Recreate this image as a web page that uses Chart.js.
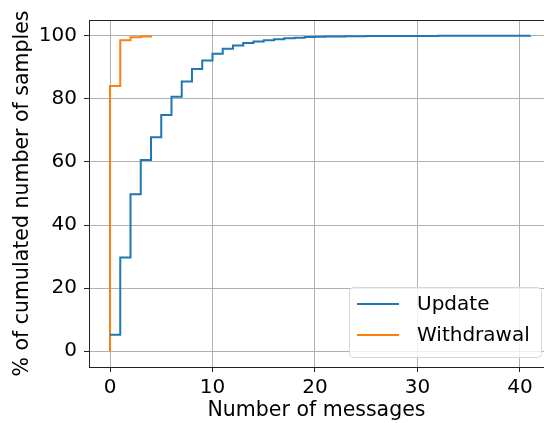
<!DOCTYPE html>
<html>
<head>
<meta charset="utf-8">
<script src="https://cdn.jsdelivr.net/npm/chart.js@4.4.1/dist/chart.umd.min.js"></script>
<style>
  html, body { margin: 0; padding: 0; background: #fff; }
  #wrap { width: 544px; height: 423px; position: relative; }
</style>
</head>
<body>
<div id="wrap"><canvas id="cdfChart"></canvas></div>
<script>
// data (step CDF, % of samples)
const seriesNames = ['Update', 'Withdrawal'];
const updateX = [0, 1, 2, 3, 4, 5, 6, 7, 8, 9, 10, 11, 12, 13, 14, 15, 16, 17, 18, 19, 20, 21, 22, 23, 25, 28, 32, 41];
const updateY = [5.2, 29.7, 49.8, 60.6, 67.8, 74.9, 80.7, 85.5, 89.5, 92.2, 94.3, 95.9, 96.9, 97.7, 98.2, 98.6, 98.9, 99.2, 99.4, 99.6, 99.7, 99.75, 99.8, 99.85, 99.9, 99.95, 99.98, 100];
const withdrawalX = [0, 0, 1, 2, 3, 4];
const withdrawalY = [0, 84.1, 98.6, 99.5, 99.8, 100];
const xTicks = [0, 10, 20, 30, 40];
const yTicks = [0, 20, 40, 60, 80, 100];

const FONT = 'DejaVu Sans';

function toPoints(xs, ys) {
    return xs.map(function (x, i) { return { x: x, y: ys[i] }; });
}

// matplotlib-like legend box + top spine
const mplExtras = {
    id: 'mplExtras',
    afterDraw: function (chart) {
        const ctx = chart.ctx;
        const a = chart.chartArea;
        ctx.save();
        ctx.strokeStyle = '#222';
        ctx.lineWidth = 1;
        ctx.beginPath();
        ctx.moveTo(a.left, a.top + 0.5);
        ctx.lineTo(a.right, a.top + 0.5);
        ctx.stroke();

        // legend
        const bx = 349.5, by = 287.5, bw = 192, bh = 70, r = 4;
        ctx.fillStyle = 'rgba(255,255,255,0.8)';
        ctx.strokeStyle = '#d6d6d6';
        ctx.beginPath();
        ctx.roundRect(bx, by, bw, bh, r);
        ctx.fill();
        ctx.stroke();
        ctx.font = '20px "' + FONT + '"';
        ctx.textBaseline = 'middle';
        ctx.fillStyle = '#000';
        chart.data.datasets.forEach(function (ds, i) {
            const yy = 304 + i * 31;
            ctx.strokeStyle = ds.borderColor;
            ctx.lineWidth = 2;
            ctx.beginPath();
            ctx.moveTo(357, yy);
            ctx.lineTo(399, yy);
            ctx.stroke();
            ctx.fillText(ds.label, 417, yy + 1);
        });
        ctx.restore();
    }
};

const ctx = document.getElementById('cdfChart').getContext('2d');
const cdfChart = new Chart(ctx, {
    type: 'line',
    data: {
        datasets: [{
            label: seriesNames[0],
            data: toPoints(updateX, updateY),
            borderColor: '#1f77b4',
            borderWidth: 2,
            stepped: 'before',
            pointRadius: 0,
            fill: false
        }, {
            label: seriesNames[1],
            data: toPoints(withdrawalX, withdrawalY),
            borderColor: '#ff7f0e',
            borderWidth: 2,
            stepped: 'before',
            pointRadius: 0,
            fill: false
        }]
    },
    options: {
        responsive: true,
        maintainAspectRatio: false,
        animation: false,
        layout: { padding: { top: 20, right: 0, left: 0, bottom: 0 } },
        plugins: {
            legend: { display: false },
            tooltip: { enabled: false }
        },
        scales: {
            x: {
                type: 'linear',
                min: -2.05,
                max: 42.35,
                afterBuildTicks: function (axis) {
                    axis.ticks = xTicks.map(function (v) { return { value: v }; });
                },
                afterFit: function (axis) { axis.height = 56; },
                grid: { color: '#b0b0b0', lineWidth: 1, tickLength: 5, tickColor: '#222' },
                border: { display: true, color: '#222', width: 1 },
                ticks: { color: '#000', font: { family: FONT, size: 20 }, padding: 4, maxRotation: 0 },
                title: {
                    display: true, text: 'Number of messages', color: '#000',
                    font: { family: FONT, size: 20.5 }, padding: { top: 0, bottom: 0 }
                }
            },
            y: {
                type: 'linear',
                min: -5,
                max: 105,
                afterBuildTicks: function (axis) {
                    axis.ticks = yTicks.map(function (v) { return { value: v }; });
                },
                afterFit: function (axis) { axis.width = 89; },
                grid: { color: '#b0b0b0', lineWidth: 1, tickLength: 5, tickColor: '#222' },
                border: { display: true, color: '#222', width: 1 },
                ticks: { color: '#000', font: { family: FONT, size: 20 }, padding: 7 },
                title: {
                    display: true, text: '% of cumulated number of samples', color: '#000',
                    font: { family: FONT, size: 20.5 }, padding: { top: 10, bottom: 0 }
                }
            }
        }
    },
    plugins: [mplExtras]
});
</script>
</body>
</html>
